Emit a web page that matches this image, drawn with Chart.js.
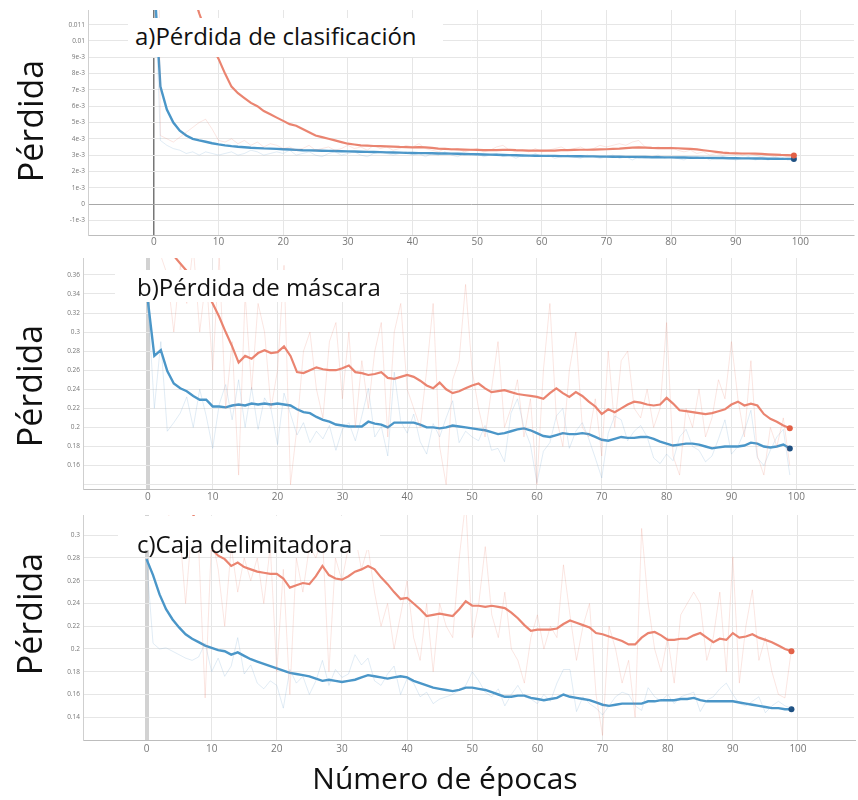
<!DOCTYPE html>
<html><head><meta charset="utf-8">
<script src="https://cdn.jsdelivr.net/npm/chart.js@4.4.1/dist/chart.umd.min.js"></script>
<style>
html,body{margin:0;padding:0;background:#fff}
body{width:858px;height:800px;position:relative;overflow:hidden;font-family:"Open Sans",sans-serif}
canvas{position:absolute;left:0}
.ylab{position:absolute;font-size:34px;line-height:40px;transform:translate(-50%,-50%) rotate(-90deg);white-space:nowrap;color:#111}
.ttl{position:absolute;background:#fff;font-size:24px;line-height:32px;color:#111;white-space:nowrap;box-sizing:border-box}
.xlab{position:absolute;font-size:30px;line-height:38px;transform:translate(-50%,-50%);white-space:nowrap;color:#111}
</style></head><body>
<canvas id="ca" width="858" height="255" style="top:0"></canvas>
<canvas id="cb" width="858" height="258" style="top:250px"></canvas>
<canvas id="cc" width="858" height="260" style="top:505px"></canvas>
<div class="ttl" style="left:128px;top:18px;width:315px;height:39px;padding:2px 0 0 7px">a)Pérdida de clasificación</div>
<div class="ttl" style="left:115px;top:270px;width:285px;height:32px;padding:1px 0 0 22px">b)Pérdida de máscara</div>
<div class="ttl" style="left:118px;top:516px;width:262px;height:34px;padding:12px 0 0 19px">c)Caja delimitadora</div>
<div class="ylab" style="left:30px;top:121px">Pérdida</div>
<div class="ylab" style="left:29px;top:386px">Pérdida</div>
<div class="ylab" style="left:29px;top:614px">Pérdida</div>
<div class="xlab" style="left:445px;top:778px">Número de épocas</div>
<script>
// ---------- data ----------
const epochs = [0,1,2,3,4,5,6,7,8,9,10,11,12,13,14,15,16,17,18,19,20,21,22,23,24,25,26,27,28,29,30,31,32,33,34,35,36,37,38,39,40,41,42,43,44,45,46,47,48,49,50,51,52,53,54,55,56,57,58,59,60,61,62,63,64,65,66,67,68,69,70,71,72,73,74,75,76,77,78,79,80,81,82,83,84,85,86,87,88,89,90,91,92,93,94,95,96,97,98,99];
const xTicks = [0,10,20,30,40,50,60,70,80,90,100];

const yTicksA = [-0.001,0,0.001,0.002,0.003,0.004,0.005,0.006,0.007,0.008,0.009,0.01,0.011];
const yLabelsA = ['-1e-3','0','1e-3','2e-3','3e-3','4e-3','5e-3','6e-3','7e-3','8e-3','9e-3','0.01','0.011'];
const yTicksB = [0.14,0.16,0.18,0.2,0.22,0.24,0.26,0.28,0.3,0.32,0.34,0.36];
const yLabelsB = ['','0.16','0.18','0.2','0.22','0.24','0.26','0.28','0.3','0.32','0.34','0.36'];
const yTicksC = [0.14,0.16,0.18,0.2,0.22,0.24,0.26,0.28,0.3];
const yLabelsC = ['0.14','0.16','0.18','0.2','0.22','0.24','0.26','0.28','0.3'];

// a) classification loss
const blueSmoothA = [0.014,0.0072,0.0058,0.005,0.0045,0.0042,0.004,0.0039,0.00382,0.00373,0.00366,0.0036,0.00355,0.00351,0.00348,0.00345,0.00343,0.00341,0.0034,0.00338,0.00336,0.00334,0.00332,0.0033,0.00329,0.00328,0.00327,0.00326,0.00325,0.00324,0.00323,0.00322,0.00321,0.0032,0.00319,0.00318,0.00317,0.00316,0.00315,0.00314,0.00313,0.00312,0.00312,0.00311,0.0031,0.0031,0.00309,0.00308,0.00307,0.00306,0.00305,0.00304,0.00303,0.00302,0.00301,0.003,0.00299,0.00298,0.00297,0.00296,0.00295,0.00295,0.00295,0.00294,0.00294,0.00293,0.00293,0.00292,0.00292,0.00291,0.00291,0.0029,0.0029,0.00289,0.00289,0.00288,0.00288,0.00287,0.00287,0.00286,0.00286,0.00285,0.00285,0.00284,0.00284,0.00283,0.00283,0.00282,0.00282,0.00281,0.00281,0.0028,0.0028,0.00279,0.00279,0.00278,0.00278,0.00277,0.00277,0.00276];
const redSmoothA = [0.03,0.026,0.022,0.019,0.0165,0.0145,0.013,0.0117,0.0106,0.0097,0.0089,0.008,0.0072,0.0068,0.0065,0.0062,0.006,0.0057,0.0055,0.0053,0.0051,0.0049,0.0048,0.0046,0.0044,0.0042,0.0041,0.004,0.0039,0.0038,0.0037,0.00365,0.0036,0.00358,0.00356,0.00355,0.00354,0.00352,0.0035,0.00349,0.00348,0.00349,0.00347,0.00344,0.0034,0.00338,0.00336,0.00335,0.00334,0.00333,0.00332,0.00331,0.0033,0.0033,0.00332,0.00333,0.0033,0.00329,0.00328,0.00328,0.00327,0.00327,0.00328,0.0033,0.00331,0.00332,0.00333,0.00333,0.00334,0.00335,0.00336,0.00338,0.0034,0.00343,0.00346,0.00348,0.00346,0.00344,0.00343,0.00343,0.00343,0.00342,0.0034,0.00338,0.00335,0.0033,0.00325,0.0032,0.00315,0.00312,0.00311,0.0031,0.0031,0.00309,0.00307,0.00305,0.00303,0.00301,0.003,0.00298];
const blueRawA = [0.015,0.0039,0.0036,0.0034,0.0033,0.0031,0.0032,0.003,0.0032,0.0031,0.003,0.0031,0.0032,0.003,0.0031,0.0033,0.0032,0.003,0.0031,0.0032,0.0031,0.0033,0.003,0.0031,0.0032,0.003,0.0029,0.0031,0.0032,0.003,0.0031,0.0032,0.003,0.0029,0.0031,0.0032,0.0031,0.003,0.0031,0.0032,0.003,0.0031,0.0029,0.0031,0.003,0.0032,0.003,0.0029,0.0031,0.003,0.0031,0.0029,0.003,0.0031,0.0029,0.003,0.0028,0.003,0.0029,0.0031,0.0029,0.003,0.0028,0.0029,0.003,0.0029,0.0028,0.003,0.0029,0.0028,0.0029,0.003,0.0028,0.0029,0.0027,0.0029,0.0028,0.0029,0.003,0.0028,0.0029,0.0028,0.0027,0.0029,0.0028,0.0029,0.0027,0.0028,0.0029,0.0028,0.0027,0.0028,0.0029,0.0027,0.0028,0.0027,0.0028,0.0029,0.0027,0.0028];
const redRawA = [0.05,0.0042,0.004,0.0038,0.0041,0.0044,0.0047,0.005,0.0052,0.0046,0.0039,0.0038,0.004,0.0037,0.0039,0.0036,0.0038,0.0035,0.0037,0.0036,0.0034,0.0035,0.0033,0.0034,0.0036,0.0033,0.0034,0.0035,0.0033,0.0034,0.0036,0.0034,0.0035,0.0033,0.0036,0.0034,0.0035,0.0033,0.0034,0.0036,0.0035,0.0037,0.0034,0.0033,0.0032,0.0034,0.0033,0.0034,0.0032,0.0033,0.0034,0.0032,0.0033,0.0035,0.0036,0.0033,0.0032,0.0033,0.0032,0.0034,0.0032,0.0033,0.0034,0.0035,0.0033,0.0034,0.0035,0.0033,0.0034,0.0036,0.0035,0.0036,0.0037,0.0036,0.0038,0.0039,0.0035,0.0034,0.0035,0.0034,0.0035,0.0033,0.0032,0.0033,0.0031,0.0032,0.003,0.0031,0.003,0.0031,0.0032,0.003,0.0031,0.003,0.0029,0.003,0.0029,0.003,0.0029,0.0029];

// b) mask loss
const blueSmoothB = [0.333,0.275,0.281,0.259,0.246,0.241,0.238,0.233,0.229,0.229,0.222,0.222,0.221,0.223,0.224,0.223,0.225,0.224,0.225,0.224,0.225,0.224,0.223,0.219,0.216,0.215,0.211,0.208,0.206,0.203,0.202,0.201,0.201,0.201,0.206,0.204,0.203,0.2,0.205,0.205,0.205,0.205,0.203,0.2,0.2,0.199,0.2,0.202,0.201,0.2,0.199,0.198,0.197,0.195,0.193,0.194,0.196,0.198,0.199,0.197,0.194,0.191,0.19,0.192,0.194,0.193,0.193,0.194,0.193,0.19,0.187,0.186,0.188,0.19,0.189,0.189,0.19,0.19,0.188,0.185,0.183,0.181,0.182,0.183,0.183,0.182,0.18,0.178,0.179,0.18,0.18,0.18,0.181,0.184,0.183,0.18,0.179,0.18,0.182,0.178];
const redSmoothB = [0.48,0.45,0.42,0.4,0.38,0.372,0.364,0.356,0.349,0.342,0.33,0.316,0.3,0.285,0.268,0.275,0.272,0.278,0.281,0.278,0.279,0.285,0.275,0.258,0.257,0.26,0.263,0.261,0.26,0.26,0.262,0.265,0.258,0.257,0.255,0.256,0.258,0.252,0.251,0.253,0.255,0.253,0.249,0.244,0.241,0.247,0.24,0.236,0.238,0.241,0.244,0.246,0.241,0.237,0.238,0.239,0.237,0.235,0.234,0.233,0.232,0.23,0.236,0.241,0.236,0.232,0.237,0.233,0.227,0.222,0.214,0.219,0.216,0.22,0.224,0.227,0.226,0.224,0.223,0.224,0.231,0.225,0.218,0.217,0.216,0.215,0.214,0.215,0.217,0.219,0.224,0.227,0.223,0.225,0.223,0.214,0.209,0.206,0.202,0.199];
const blueRawB = [0.333,0.22,0.29,0.196,0.205,0.215,0.232,0.2,0.24,0.212,0.178,0.224,0.245,0.208,0.25,0.2,0.242,0.198,0.231,0.219,0.182,0.236,0.214,0.192,0.205,0.184,0.196,0.188,0.202,0.176,0.198,0.205,0.186,0.212,0.241,0.19,0.201,0.17,0.258,0.206,0.194,0.214,0.185,0.172,0.204,0.19,0.21,0.228,0.184,0.196,0.19,0.186,0.202,0.176,0.178,0.164,0.215,0.23,0.2,0.182,0.142,0.175,0.184,0.212,0.22,0.178,0.196,0.205,0.188,0.168,0.147,0.194,0.212,0.208,0.186,0.196,0.202,0.19,0.168,0.162,0.172,0.165,0.19,0.198,0.18,0.176,0.164,0.17,0.188,0.208,0.172,0.18,0.196,0.218,0.168,0.16,0.176,0.19,0.198,0.15];
const redRawB = [0.5,0.42,0.38,0.36,0.3,0.37,0.33,0.39,0.3,0.36,0.26,0.38,0.22,0.29,0.15,0.34,0.24,0.33,0.3,0.22,0.26,0.37,0.14,0.2,0.28,0.3,0.24,0.21,0.29,0.31,0.23,0.3,0.2,0.27,0.22,0.28,0.31,0.19,0.3,0.33,0.24,0.22,0.2,0.26,0.33,0.18,0.14,0.25,0.27,0.35,0.26,0.22,0.19,0.24,0.29,0.2,0.22,0.25,0.19,0.23,0.14,0.26,0.33,0.21,0.18,0.26,0.3,0.2,0.19,0.23,0.17,0.28,0.2,0.27,0.28,0.22,0.21,0.24,0.2,0.22,0.31,0.17,0.15,0.22,0.2,0.24,0.19,0.21,0.25,0.23,0.29,0.23,0.19,0.27,0.17,0.15,0.2,0.18,0.21,0.16];

// c) bounding box loss
const blueSmoothC = [0.279,0.265,0.248,0.235,0.226,0.219,0.213,0.209,0.206,0.203,0.201,0.199,0.198,0.195,0.197,0.194,0.191,0.189,0.187,0.185,0.183,0.181,0.179,0.178,0.177,0.176,0.174,0.172,0.173,0.172,0.171,0.172,0.173,0.175,0.177,0.176,0.175,0.174,0.175,0.176,0.175,0.172,0.17,0.168,0.166,0.165,0.164,0.163,0.164,0.166,0.166,0.165,0.164,0.162,0.16,0.158,0.158,0.159,0.159,0.157,0.156,0.155,0.156,0.157,0.16,0.158,0.157,0.156,0.155,0.153,0.151,0.15,0.151,0.152,0.152,0.152,0.152,0.154,0.154,0.155,0.155,0.155,0.156,0.156,0.157,0.155,0.154,0.154,0.154,0.154,0.154,0.153,0.152,0.151,0.15,0.149,0.148,0.148,0.147,0.147];
const redSmoothC = [0.4,0.39,0.38,0.37,0.36,0.345,0.333,0.32,0.308,0.298,0.288,0.282,0.279,0.273,0.276,0.272,0.27,0.268,0.267,0.266,0.266,0.262,0.254,0.256,0.258,0.257,0.264,0.273,0.265,0.262,0.261,0.264,0.268,0.27,0.273,0.27,0.263,0.257,0.25,0.244,0.245,0.24,0.235,0.229,0.23,0.231,0.23,0.229,0.235,0.242,0.238,0.238,0.237,0.238,0.237,0.236,0.232,0.227,0.221,0.216,0.217,0.217,0.217,0.218,0.222,0.225,0.223,0.221,0.219,0.214,0.213,0.211,0.209,0.207,0.204,0.204,0.21,0.214,0.215,0.212,0.208,0.208,0.209,0.209,0.212,0.214,0.21,0.206,0.209,0.208,0.214,0.21,0.211,0.213,0.21,0.208,0.206,0.203,0.2,0.198];
const blueRawC = [0.279,0.205,0.2,0.201,0.198,0.195,0.192,0.19,0.193,0.205,0.18,0.192,0.176,0.185,0.21,0.178,0.186,0.17,0.165,0.172,0.168,0.148,0.182,0.17,0.176,0.16,0.172,0.19,0.168,0.182,0.175,0.178,0.195,0.186,0.192,0.172,0.168,0.178,0.185,0.16,0.174,0.17,0.158,0.162,0.152,0.156,0.158,0.16,0.164,0.168,0.18,0.172,0.162,0.158,0.165,0.15,0.16,0.168,0.158,0.156,0.152,0.16,0.154,0.17,0.182,0.182,0.145,0.158,0.152,0.148,0.142,0.15,0.158,0.162,0.16,0.15,0.146,0.166,0.158,0.154,0.16,0.152,0.158,0.16,0.162,0.145,0.155,0.158,0.165,0.17,0.16,0.152,0.15,0.154,0.158,0.144,0.15,0.154,0.15,0.148];
const redRawC = [0.45,0.36,0.34,0.33,0.3,0.31,0.24,0.31,0.29,0.157,0.3,0.27,0.22,0.29,0.25,0.28,0.26,0.28,0.24,0.29,0.18,0.27,0.16,0.28,0.25,0.29,0.28,0.3,0.18,0.28,0.26,0.29,0.3,0.27,0.29,0.25,0.22,0.24,0.2,0.23,0.26,0.21,0.19,0.24,0.18,0.24,0.22,0.21,0.28,0.33,0.21,0.24,0.29,0.23,0.21,0.25,0.2,0.19,0.17,0.21,0.23,0.2,0.22,0.21,0.274,0.23,0.19,0.22,0.24,0.16,0.124,0.22,0.2,0.17,0.19,0.14,0.306,0.24,0.2,0.18,0.21,0.17,0.23,0.24,0.25,0.24,0.19,0.21,0.25,0.18,0.281,0.17,0.22,0.252,0.19,0.21,0.18,0.16,0.157,0.2];

// ---------- styling ----------
const BLUE = 'rgb(74,150,200)';
const BLUE_DOT = 'rgb(30,80,130)';
const RED = 'rgb(234,132,112)';
const RED_DOT = 'rgb(226,96,70)';
const BLUE_RAW = 'rgba(120,170,210,0.22)';
const RED_RAW = 'rgba(234,132,112,0.2)';

function pts(arr){ return epochs.map((e,i)=>({x:e, y:arr[i]})); }
function endDot(n){ return ctx => ctx.dataIndex === n-1 ? 3 : 0; }

function makePanel(id, o){
  const ds = [
    {data:pts(o.redRaw), borderColor:RED_RAW, borderWidth:1, pointRadius:0, tension:0},
    {data:pts(o.blueRaw), borderColor:BLUE_RAW, borderWidth:1, pointRadius:0, tension:0},
    {data:pts(o.redSmooth), borderColor:RED, borderWidth:2.2, pointRadius:endDot(o.redSmooth.length), pointBackgroundColor:RED_DOT, pointBorderWidth:0, tension:0},
    {data:pts(o.blueSmooth), borderColor:BLUE, borderWidth:2.4, pointRadius:endDot(o.blueSmooth.length), pointBackgroundColor:BLUE_DOT, pointBorderWidth:0, tension:0}
  ];
  new Chart(document.getElementById(id), {
    type:'line',
    data:{datasets:ds},
    options:{
      responsive:false, animation:false, devicePixelRatio:1,
      layout:{padding:o.pad},
      plugins:{legend:{display:false}, tooltip:{enabled:false}},
      scales:{
        x:{type:'linear', min:o.xmin, max:o.xmax,
          afterBuildTicks:s=>{s.ticks = xTicks.map(v=>({value:v}));},
          afterFit:s=>{s.height = o.xh;},
          grid:{drawTicks:false, color:c=>c.tick && c.tick.value===0 ? o.zeroX : '#e6e6e6',
                lineWidth:c=>c.tick && c.tick.value===0 ? o.zeroXW : 1},
          border:{display:true, color:'#bdbdbd', width:1},
          ticks:{color:'#777', font:{family:'"Open Sans",sans-serif', size:10}, padding:o.xpad, maxRotation:0, autoSkip:false}
        },
        y:{type:'linear', min:o.ymin, max:o.ymax,
          afterBuildTicks:s=>{s.ticks = o.yTicks.map(v=>({value:v}));},
          afterFit:s=>{s.width = o.yw;},
          grid:{drawTicks:false, color:c=>c.tick && c.tick.value===0 ? '#a8a8a8' : '#e6e6e6', lineWidth:1},
          border:{display:true, color:'#cfcfcf', width:1},
          ticks:{color:'#777', font:{family:'"Open Sans",sans-serif', size:6.5}, padding:3, autoSkip:false,
                 callback:(v,i)=>o.yLabels[i]}
        }
      }
    }
  });
}

makePanel('ca', {redRaw:redRawA, blueRaw:blueRawA, redSmooth:redSmoothA, blueSmooth:blueSmoothA,
  pad:{top:10,right:2,bottom:2,left:0}, xh:18, yw:88, xpad:1,
  xmin:-10.2, xmax:108.3, ymin:-0.0019, ymax:0.0119, yTicks:yTicksA, yLabels:yLabelsA,
  zeroX:'#777', zeroXW:1.5});
makePanel('cb', {redRaw:redRawB, blueRaw:blueRawB, redSmooth:redSmoothB, blueSmooth:blueSmoothB,
  pad:{top:8,right:2,bottom:1,left:0}, xh:18, yw:83, xpad:2,
  xmin:-10, xmax:108.9, ymin:0.1354, ymax:0.3777, yTicks:yTicksB, yLabels:yLabelsB,
  zeroX:'#d2d2d2', zeroXW:4});
makePanel('cc', {redRaw:redRawC, blueRaw:blueRawC, redSmooth:redSmoothC, blueSmooth:blueSmoothC,
  pad:{top:10,right:2,bottom:7,left:0}, xh:18, yw:83, xpad:3,
  xmin:-9.75, xmax:108.6, ymin:0.12, ymax:0.3178, yTicks:yTicksC, yLabels:yLabelsC,
  zeroX:'#d2d2d2', zeroXW:4});
</script>
</body></html>
